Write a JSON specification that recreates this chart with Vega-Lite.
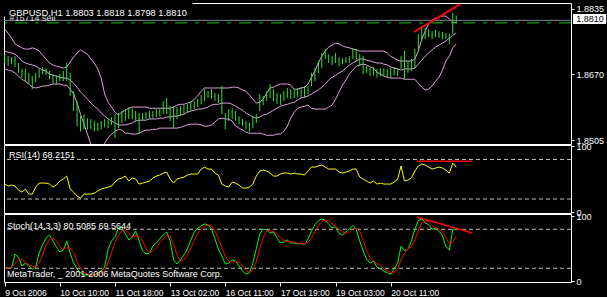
{
"$schema": "https://vega.github.io/schema/vega-lite/v6.json",
"background": "black",
"padding": {"left": 2, "top": 2, "right": 0, "bottom": 0},
"bounds": "flush",
"spacing": 1,
"config": {
  "view": {"stroke": "white", "strokeWidth": 1},
  "axis": {"domain": false, "grid": false, "tickColor": "white", "tickSize": 3, "labelColor": "white", "labelFont": "Liberation Sans", "labelFontSize": 9, "labelPadding": 2, "title": null},
  "text": {"font": "Liberation Sans", "fontSize": 9, "color": "white"}
},
"datasets": {
  "bars": [
{"i":0,"h":1.8721,"l":1.8699,"u":1.8784,"m":1.8729,"b":1.8684,"r":42.7,"k":20.5,"d":20},
{"i":1,"h":1.8716,"l":1.8691,"u":1.8774,"m":1.8726,"b":1.8681,"r":39.7,"k":20.5,"d":20.5},
{"i":2,"h":1.8714,"l":1.8696,"u":1.8762,"m":1.8724,"b":1.8679,"r":41.2,"k":20.5,"d":20.5},
{"i":3,"h":1.8716,"l":1.8689,"u":1.8747,"m":1.8721,"b":1.8674,"r":39.7,"k":42,"d":27.7},
{"i":4,"h":1.8699,"l":1.8674,"u":1.8742,"m":1.8714,"b":1.8666,"r":33.6,"k":37,"d":33},
{"i":5,"h":1.8684,"l":1.8661,"u":1.8737,"m":1.8704,"b":1.8658,"r":30.5,"k":23.5,"d":34},
{"i":6,"h":1.8684,"l":1.8653,"u":1.8734,"m":1.8699,"b":1.8653,"r":35.1,"k":28,"d":29.5},
{"i":7,"h":1.8674,"l":1.8646,"u":1.8734,"m":1.8696,"b":1.8646,"r":27.5,"k":23.5,"d":25},
{"i":8,"h":1.8666,"l":1.8633,"u":1.8737,"m":1.8694,"b":1.8638,"r":27.5,"k":19,"d":23.5},
{"i":9,"h":1.8674,"l":1.8651,"u":1.8734,"m":1.8691,"b":1.8636,"r":38.1,"k":22,"d":21.5},
{"i":10,"h":1.8684,"l":1.8661,"u":1.8729,"m":1.8686,"b":1.8638,"r":44.2,"k":43.5,"d":28},
{"i":11,"h":1.8689,"l":1.8671,"u":1.8719,"m":1.8681,"b":1.8641,"r":44.2,"k":56,"d":40.5},
{"i":12,"h":1.8686,"l":1.8668,"u":1.8709,"m":1.8679,"b":1.8641,"r":44.2,"k":66.6,"d":55.4},
{"i":13,"h":1.8679,"l":1.8658,"u":1.8699,"m":1.8671,"b":1.8643,"r":42.7,"k":71.2,"d":64.6},
{"i":14,"h":1.8671,"l":1.8648,"u":1.8694,"m":1.8668,"b":1.8646,"r":38.1,"k":62,"d":66.6},
{"i":15,"h":1.8668,"l":1.8646,"u":1.8691,"m":1.8666,"b":1.8646,"r":41.2,"k":52.8,"d":62},
{"i":16,"h":1.8671,"l":1.8653,"u":1.8689,"m":1.8663,"b":1.8646,"r":47.3,"k":45,"d":53.3},
{"i":17,"h":1.8679,"l":1.8653,"u":1.8686,"m":1.8661,"b":1.8643,"r":50.3,"k":48,"d":48.6},
{"i":18,"h":1.8699,"l":1.8653,"u":1.8689,"m":1.8661,"b":1.8643,"r":54.9,"k":62,"d":51.7},
{"i":19,"h":1.8674,"l":1.8616,"u":1.8701,"m":1.8656,"b":1.8633,"r":35.1,"k":43.5,"d":51.2},
{"i":20,"h":1.8628,"l":1.8578,"u":1.8714,"m":1.8648,"b":1.8621,"r":30.5,"k":28,"d":44.5},
{"i":21,"h":1.8603,"l":1.854,"u":1.8724,"m":1.8638,"b":1.8598,"r":24.5,"k":19,"d":30.2},
{"i":22,"h":1.8565,"l":1.8527,"u":1.8732,"m":1.8626,"b":1.857,"r":21.4,"k":12.8,"d":19.9},
{"i":23,"h":1.857,"l":1.8532,"u":1.8726,"m":1.8618,"b":1.8545,"r":27.5,"k":9.7,"d":13.8},
{"i":24,"h":1.856,"l":1.8532,"u":1.8721,"m":1.8608,"b":1.852,"r":27.5,"k":9.7,"d":10.7},
{"i":25,"h":1.8558,"l":1.8532,"u":1.8709,"m":1.8598,"b":1.8495,"r":27.5,"k":9.7,"d":9.7},
{"i":26,"h":1.8553,"l":1.8527,"u":1.8699,"m":1.859,"b":1.8477,"r":29,"k":9.7,"d":9.7},
{"i":27,"h":1.8548,"l":1.8527,"u":1.8684,"m":1.8583,"b":1.8464,"r":32.1,"k":12.8,"d":10.7},
{"i":28,"h":1.8553,"l":1.8532,"u":1.8661,"m":1.8573,"b":1.8472,"r":35.1,"k":15.8,"d":12.8},
{"i":29,"h":1.8558,"l":1.8537,"u":1.8621,"m":1.8565,"b":1.8497,"r":36.6,"k":22,"d":16.9},
{"i":30,"h":1.8555,"l":1.8535,"u":1.86,"m":1.8558,"b":1.851,"r":38.1,"k":49.6,"d":29.1},
{"i":31,"h":1.8563,"l":1.8543,"u":1.8588,"m":1.8553,"b":1.852,"r":39.7,"k":62,"d":44.5},
{"i":32,"h":1.857,"l":1.851,"u":1.8575,"m":1.8548,"b":1.8527,"r":45.7,"k":68,"d":59.9},
{"i":33,"h":1.8573,"l":1.8535,"u":1.8568,"m":1.8543,"b":1.8532,"r":50.3,"k":82,"d":70.7},
{"i":34,"h":1.8578,"l":1.8548,"u":1.8575,"m":1.8543,"b":1.853,"r":51.8,"k":83.5,"d":77.8},
{"i":35,"h":1.8583,"l":1.8553,"u":1.858,"m":1.8543,"b":1.8522,"r":54.9,"k":72.8,"d":79.4},
{"i":36,"h":1.8588,"l":1.8558,"u":1.8585,"m":1.8545,"b":1.8522,"r":47.3,"k":63.5,"d":73.3},
{"i":37,"h":1.8585,"l":1.8558,"u":1.8588,"m":1.8548,"b":1.852,"r":51.8,"k":68,"d":68.1},
{"i":38,"h":1.8578,"l":1.8553,"u":1.8588,"m":1.8553,"b":1.852,"r":50.3,"k":77.4,"d":69.6},
{"i":39,"h":1.8573,"l":1.852,"u":1.8588,"m":1.8555,"b":1.8522,"r":42.7,"k":62,"d":69.1},
{"i":40,"h":1.8573,"l":1.8553,"u":1.8588,"m":1.8555,"b":1.8527,"r":44.2,"k":46.6,"d":62},
{"i":41,"h":1.8575,"l":1.8558,"u":1.8588,"m":1.8555,"b":1.853,"r":45.7,"k":42,"d":50.2},
{"i":42,"h":1.8578,"l":1.8558,"u":1.8585,"m":1.8558,"b":1.853,"r":47.3,"k":43.5,"d":44},
{"i":43,"h":1.8578,"l":1.856,"u":1.8585,"m":1.8558,"b":1.8532,"r":51.8,"k":54.3,"d":46.6},
{"i":44,"h":1.8583,"l":1.8563,"u":1.8585,"m":1.8558,"b":1.8532,"r":54.9,"k":58.9,"d":52.2},
{"i":45,"h":1.8585,"l":1.8565,"u":1.8585,"m":1.856,"b":1.8535,"r":56.4,"k":65.1,"d":59.4},
{"i":46,"h":1.8603,"l":1.857,"u":1.8585,"m":1.856,"b":1.8535,"r":59.4,"k":71.2,"d":65.1},
{"i":47,"h":1.8611,"l":1.857,"u":1.8585,"m":1.8563,"b":1.8535,"r":60.9,"k":75.8,"d":70.7},
{"i":48,"h":1.859,"l":1.8553,"u":1.8585,"m":1.8563,"b":1.8535,"r":50.3,"k":62,"d":69.7},
{"i":49,"h":1.859,"l":1.8535,"u":1.8588,"m":1.8565,"b":1.8535,"r":44.2,"k":32.7,"d":56.8},
{"i":50,"h":1.8588,"l":1.8558,"u":1.8593,"m":1.8565,"b":1.8535,"r":50.3,"k":26.6,"d":40.4},
{"i":51,"h":1.859,"l":1.8565,"u":1.8595,"m":1.8568,"b":1.8537,"r":51.8,"k":32.7,"d":30.7},
{"i":52,"h":1.8593,"l":1.857,"u":1.8595,"m":1.857,"b":1.854,"r":53.3,"k":40.4,"d":33.2},
{"i":53,"h":1.8595,"l":1.8573,"u":1.8598,"m":1.8575,"b":1.8543,"r":56.4,"k":49.6,"d":40.9},
{"i":54,"h":1.8603,"l":1.8578,"u":1.86,"m":1.8578,"b":1.8545,"r":57.9,"k":63.5,"d":51.2},
{"i":55,"h":1.8603,"l":1.8583,"u":1.8608,"m":1.858,"b":1.8545,"r":57.9,"k":75.8,"d":63},
{"i":56,"h":1.8608,"l":1.8588,"u":1.8616,"m":1.8583,"b":1.8545,"r":57.9,"k":82,"d":73.8},
{"i":57,"h":1.8618,"l":1.8595,"u":1.8628,"m":1.8583,"b":1.8543,"r":65.5,"k":85.1,"d":81},
{"i":58,"h":1.8633,"l":1.8603,"u":1.8636,"m":1.8585,"b":1.854,"r":68.5,"k":88.2,"d":85.1},
{"i":59,"h":1.8628,"l":1.8611,"u":1.8636,"m":1.8588,"b":1.854,"r":65.5,"k":86.6,"d":86.6},
{"i":60,"h":1.8633,"l":1.8608,"u":1.8636,"m":1.8593,"b":1.8543,"r":65.5,"k":80.5,"d":85.1},
{"i":61,"h":1.8623,"l":1.8603,"u":1.8636,"m":1.8595,"b":1.855,"r":59.4,"k":65.1,"d":77.4},
{"i":62,"h":1.8621,"l":1.8598,"u":1.8636,"m":1.8595,"b":1.8558,"r":56.4,"k":49.6,"d":65.1},
{"i":63,"h":1.8641,"l":1.857,"u":1.8636,"m":1.8598,"b":1.856,"r":42.7,"k":38.9,"d":51.2},
{"i":64,"h":1.8573,"l":1.8532,"u":1.8636,"m":1.8598,"b":1.8558,"r":39.7,"k":26.6,"d":38.4},
{"i":65,"h":1.8583,"l":1.8553,"u":1.8636,"m":1.8598,"b":1.8558,"r":38.1,"k":28,"d":31.2},
{"i":66,"h":1.8585,"l":1.8558,"u":1.8638,"m":1.8595,"b":1.8553,"r":45.7,"k":32.7,"d":29.1},
{"i":67,"h":1.8578,"l":1.8553,"u":1.8638,"m":1.859,"b":1.854,"r":44.2,"k":31.2,"d":30.6},
{"i":68,"h":1.8565,"l":1.8545,"u":1.8636,"m":1.8585,"b":1.8535,"r":41.2,"k":23.5,"d":29.1},
{"i":69,"h":1.8558,"l":1.854,"u":1.8631,"m":1.858,"b":1.853,"r":36.6,"k":15.8,"d":23.5},
{"i":70,"h":1.8553,"l":1.8532,"u":1.8628,"m":1.8573,"b":1.8525,"r":36.6,"k":11.2,"d":16.8},
{"i":71,"h":1.8548,"l":1.8525,"u":1.8618,"m":1.8568,"b":1.8522,"r":38.1,"k":12.8,"d":13.3},
{"i":72,"h":1.8565,"l":1.8535,"u":1.8608,"m":1.8563,"b":1.8522,"r":42.7,"k":28,"d":17.3},
{"i":73,"h":1.857,"l":1.8548,"u":1.8598,"m":1.856,"b":1.8522,"r":54.9,"k":50,"d":30.3},
{"i":74,"h":1.8621,"l":1.8578,"u":1.86,"m":1.8563,"b":1.8522,"r":62.5,"k":72.8,"d":50.3},
{"i":75,"h":1.8616,"l":1.8593,"u":1.8608,"m":1.8568,"b":1.852,"r":63.9,"k":80.5,"d":67.8},
{"i":76,"h":1.8628,"l":1.8603,"u":1.8623,"m":1.857,"b":1.8517,"r":62.5,"k":79,"d":77.4},
{"i":77,"h":1.8646,"l":1.8611,"u":1.8636,"m":1.8575,"b":1.8517,"r":59.4,"k":74.3,"d":77.9},
{"i":78,"h":1.8633,"l":1.8603,"u":1.8638,"m":1.858,"b":1.8517,"r":54.9,"k":75.8,"d":76.4},
{"i":79,"h":1.8623,"l":1.8595,"u":1.8643,"m":1.8585,"b":1.852,"r":54.9,"k":66.6,"d":72.2},
{"i":80,"h":1.8621,"l":1.8593,"u":1.8646,"m":1.859,"b":1.852,"r":57.9,"k":58.9,"d":67.1},
{"i":81,"h":1.8628,"l":1.8603,"u":1.8646,"m":1.8593,"b":1.8527,"r":59.4,"k":60.5,"d":62},
{"i":82,"h":1.8636,"l":1.8611,"u":1.8646,"m":1.8595,"b":1.854,"r":59.4,"k":63.5,"d":61},
{"i":83,"h":1.8633,"l":1.8608,"u":1.8643,"m":1.8598,"b":1.856,"r":57.9,"k":58.9,"d":61},
{"i":84,"h":1.8633,"l":1.8611,"u":1.8633,"m":1.86,"b":1.8575,"r":59.4,"k":58.9,"d":60.4},
{"i":85,"h":1.8636,"l":1.8613,"u":1.8633,"m":1.8606,"b":1.8585,"r":57.9,"k":57.4,"d":58.4},
{"i":86,"h":1.8638,"l":1.8613,"u":1.8636,"m":1.8611,"b":1.8588,"r":57.9,"k":58.9,"d":58.4},
{"i":87,"h":1.8641,"l":1.8611,"u":1.8638,"m":1.8613,"b":1.859,"r":56.4,"k":56,"d":57.4},
{"i":88,"h":1.8641,"l":1.8621,"u":1.8646,"m":1.8616,"b":1.8593,"r":62.5,"k":65,"d":60},
{"i":89,"h":1.8674,"l":1.8641,"u":1.8663,"m":1.8621,"b":1.8585,"r":68.5,"k":77,"d":66},
{"i":90,"h":1.8686,"l":1.8653,"u":1.8679,"m":1.8626,"b":1.8583,"r":68.5,"k":87,"d":76.3},
{"i":91,"h":1.8704,"l":1.8674,"u":1.8699,"m":1.8631,"b":1.8583,"r":70.1,"k":93,"d":85.7},
{"i":92,"h":1.8724,"l":1.8686,"u":1.8716,"m":1.8638,"b":1.8583,"r":71.6,"k":96,"d":92},
{"i":93,"h":1.8734,"l":1.8709,"u":1.8729,"m":1.8646,"b":1.8583,"r":68.5,"k":94,"d":94.3},
{"i":94,"h":1.8721,"l":1.8699,"u":1.8739,"m":1.8656,"b":1.8588,"r":65.5,"k":88,"d":92.7},
{"i":95,"h":1.8716,"l":1.8694,"u":1.8744,"m":1.8663,"b":1.8593,"r":65.5,"k":82,"d":88},
{"i":96,"h":1.8724,"l":1.8699,"u":1.8749,"m":1.8668,"b":1.8608,"r":65.5,"k":84,"d":84.7},
{"i":97,"h":1.8714,"l":1.8691,"u":1.8747,"m":1.8674,"b":1.8626,"r":60.9,"k":74,"d":80},
{"i":98,"h":1.8711,"l":1.8696,"u":1.8742,"m":1.8679,"b":1.8643,"r":59.4,"k":71,"d":76.3},
{"i":99,"h":1.8714,"l":1.8699,"u":1.8739,"m":1.8686,"b":1.8656,"r":60.9,"k":76,"d":73.7},
{"i":100,"h":1.8716,"l":1.8699,"u":1.8737,"m":1.8694,"b":1.8671,"r":62.5,"k":80,"d":75.7},
{"i":101,"h":1.8737,"l":1.8709,"u":1.8734,"m":1.8699,"b":1.8681,"r":65.5,"k":86,"d":80.7},
{"i":102,"h":1.8734,"l":1.8704,"u":1.8732,"m":1.8704,"b":1.8691,"r":65.5,"k":80,"d":82},
{"i":103,"h":1.8721,"l":1.8691,"u":1.8729,"m":1.8709,"b":1.8694,"r":53.3,"k":62,"d":76},
{"i":104,"h":1.8716,"l":1.8671,"u":1.8729,"m":1.8709,"b":1.8696,"r":50.3,"k":47,"d":63},
{"i":105,"h":1.8691,"l":1.8674,"u":1.8729,"m":1.8706,"b":1.8694,"r":47.3,"k":34,"d":47.7},
{"i":106,"h":1.8686,"l":1.8666,"u":1.8729,"m":1.8704,"b":1.8689,"r":44.2,"k":28,"d":36.3},
{"i":107,"h":1.8689,"l":1.8668,"u":1.8729,"m":1.8701,"b":1.8686,"r":47.3,"k":31,"d":31},
{"i":108,"h":1.8684,"l":1.8663,"u":1.8729,"m":1.8699,"b":1.8676,"r":42.7,"k":22,"d":27},
{"i":109,"h":1.8686,"l":1.8666,"u":1.8729,"m":1.8699,"b":1.8671,"r":44.2,"k":19,"d":24},
{"i":110,"h":1.8686,"l":1.8666,"u":1.8729,"m":1.8696,"b":1.8666,"r":42.7,"k":16,"d":19},
{"i":111,"h":1.8684,"l":1.8663,"u":1.8724,"m":1.8694,"b":1.8663,"r":42.7,"k":13,"d":16},
{"i":112,"h":1.8686,"l":1.8661,"u":1.8716,"m":1.8689,"b":1.8661,"r":42.7,"k":11,"d":13.3},
{"i":113,"h":1.8689,"l":1.8668,"u":1.8711,"m":1.8686,"b":1.8661,"r":45.7,"k":19,"d":14.3},
{"i":114,"h":1.8686,"l":1.8666,"u":1.8706,"m":1.8684,"b":1.8661,"r":50.3,"k":28,"d":19.3},
{"i":115,"h":1.8716,"l":1.8684,"u":1.8704,"m":1.8681,"b":1.8661,"r":70.1,"k":54,"d":33.7},
{"i":116,"h":1.8729,"l":1.8658,"u":1.8704,"m":1.8684,"b":1.8658,"r":47.3,"k":47,"d":43},
{"i":117,"h":1.8704,"l":1.8674,"u":1.8704,"m":1.8684,"b":1.8658,"r":48.8,"k":49,"d":50},
{"i":118,"h":1.8709,"l":1.8679,"u":1.8704,"m":1.8684,"b":1.8658,"r":51.8,"k":62,"d":52.7},
{"i":119,"h":1.8734,"l":1.8686,"u":1.8709,"m":1.8686,"b":1.8658,"r":62.5,"k":80,"d":63.7},
{"i":120,"h":1.8772,"l":1.8729,"u":1.8729,"m":1.8696,"b":1.8648,"r":70.1,"k":93,"d":78.3},
{"i":121,"h":1.8792,"l":1.8754,"u":1.8759,"m":1.8706,"b":1.8638,"r":73.1,"k":96,"d":89.7},
{"i":122,"h":1.8787,"l":1.8759,"u":1.8779,"m":1.8716,"b":1.8631,"r":71.6,"k":90,"d":93},
{"i":123,"h":1.8784,"l":1.8764,"u":1.8797,"m":1.8724,"b":1.8633,"r":68.5,"k":87,"d":91},
{"i":124,"h":1.8779,"l":1.8759,"u":1.8807,"m":1.8732,"b":1.8641,"r":65.5,"k":80,"d":85.7},
{"i":125,"h":1.8782,"l":1.8764,"u":1.8812,"m":1.8739,"b":1.8653,"r":67,"k":82,"d":83},
{"i":126,"h":1.8779,"l":1.8762,"u":1.8815,"m":1.8744,"b":1.8663,"r":68.5,"k":77,"d":79.7},
{"i":127,"h":1.8777,"l":1.8759,"u":1.8817,"m":1.8749,"b":1.8681,"r":67,"k":70,"d":76.3},
{"i":128,"h":1.8774,"l":1.8759,"u":1.8817,"m":1.8754,"b":1.8704,"r":64,"k":54,"d":67},
{"i":129,"h":1.8772,"l":1.8747,"u":1.881,"m":1.8762,"b":1.8716,"r":59.4,"k":48,"d":57.3},
{"i":130,"h":1.8825,"l":1.8772,"u":1.8802,"m":1.8769,"b":1.8737,"r":74.6,"k":80,"d":60.7},
{"i":131,"h":1.8818,"l":1.8798,"u":1.88,"m":1.8774,"b":1.8747,"r":68.2151,"k":80.5085,"d":69.5644}
  ],
  "trendMain": [{"x": 118.8, "v": 1.8777}, {"x": 132.1, "v": 1.8847}],
  "trendRsi": [{"x": 119.6, "v": 77.5}, {"x": 135.6, "v": 77.5}],
  "trendSto": [{"x": 119.6, "v": 98.9}, {"x": 135.6, "v": 74.3}]
},
"vconcat": [
  {
    "width": 567, "height": 141,
    "data": {"name": "bars"},
    "layer": [
      {"mark": {"type": "line", "color": "#dda0dd", "strokeWidth": 1, "clip": true, "interpolate": "linear"},
       "encoding": {"x": {"field": "i", "type": "quantitative", "scale": {"domain": [-0.2, 164.3], "nice": false, "zero": false}, "axis": null},
                    "y": {"field": "u", "type": "quantitative", "scale": {"domain": [1.8495, 1.885], "nice": false, "zero": false},
                          "axis": {"orient": "right", "values": [1.8505, 1.8585, 1.867, 1.8755, 1.8835], "format": ".4f", "labelFlush": false, "labelBaseline": "middle"}}}},
      {"mark": {"type": "line", "color": "#dda0dd", "strokeWidth": 1, "clip": true},
       "encoding": {"x": {"field": "i", "type": "quantitative"}, "y": {"field": "m", "type": "quantitative"}}},
      {"mark": {"type": "line", "color": "#dda0dd", "strokeWidth": 1, "clip": true},
       "encoding": {"x": {"field": "i", "type": "quantitative"}, "y": {"field": "b", "type": "quantitative"}}},
      {"mark": {"type": "rule", "color": "#33e033", "strokeWidth": 1},
       "encoding": {"x": {"field": "i", "type": "quantitative"}, "y": {"field": "h", "type": "quantitative"}, "y2": {"field": "l"}}},
      {"data": {"values": [{}]},
       "mark": {"type": "rule", "color": "#778899", "strokeWidth": 1},
       "encoding": {"y": {"datum": 1.88064, "type": "quantitative"}}},
      {"data": {"values": [{}]},
       "mark": {"type": "rule", "color": "#00c800", "strokeWidth": 1, "strokeDash": [12, 8, 4, 8]},
       "encoding": {"y": {"datum": 1.88, "type": "quantitative"}}},
      {"data": {"name": "trendMain"},
       "mark": {"type": "line", "color": "#ff0000", "strokeWidth": 2, "clip": true},
       "encoding": {"x": {"field": "x", "type": "quantitative"}, "y": {"field": "v", "type": "quantitative"}}},
      {"data": {"values": [{}]},
       "mark": {"type": "text", "text": "#15714 sell", "align": "left", "baseline": "alphabetic", "fontSize": 9, "color": "#e0e0e0"},
       "encoding": {"x": {"datum": 1.4, "type": "quantitative"}, "y": {"datum": 1.88047, "type": "quantitative"}}},
      {"data": {"values": [{}]},
       "mark": {"type": "rect", "fill": "black"},
       "encoding": {"x": {"datum": -0.2, "type": "quantitative"}, "x2": {"datum": 54.5}, "y": {"datum": 1.885, "type": "quantitative"}, "y2": {"datum": 1.8816}}},
      {"data": {"values": [{}]},
       "mark": {"type": "text", "text": "GBPUSD,H1  1.8803 1.8818 1.8798 1.8810", "align": "left", "baseline": "alphabetic", "fontSize": 9.3},
       "encoding": {"x": {"datum": 1.25, "type": "quantitative"}, "y": {"datum": 1.88173, "type": "quantitative"}}},
      {"data": {"values": [{}]},
       "mark": {"type": "rect", "fill": "white"},
       "encoding": {"x": {"datum": 164.9, "type": "quantitative"}, "x2": {"datum": 174.5}, "y": {"datum": 1.8822, "type": "quantitative"}, "y2": {"datum": 1.8797}}},
      {"data": {"values": [{}]},
       "mark": {"type": "text", "text": "1.8810", "align": "left", "baseline": "middle", "fontSize": 9, "color": "black"},
       "encoding": {"x": {"datum": 165.8, "type": "quantitative"}, "y": {"datum": 1.881, "type": "quantitative"}}}
    ]
  },
  {
    "width": 567, "height": 68,
    "data": {"name": "bars"},
    "layer": [
      {"data": {"values": [{}]},
       "mark": {"type": "rule", "color": "#c0c0c0", "strokeWidth": 1, "strokeDash": [4, 3]},
       "encoding": {"y": {"datum": 80, "type": "quantitative", "scale": {"domain": [-1.2, 102], "nice": false, "zero": false},
                          "axis": {"orient": "right", "values": [0, 20, 80, 100], "labelFlush": true, "labelBaseline": "middle"}}}},
      {"data": {"values": [{}]},
       "mark": {"type": "rule", "color": "#c0c0c0", "strokeWidth": 1, "strokeDash": [4, 3]},
       "encoding": {"y": {"datum": 20, "type": "quantitative"}}},
      {"mark": {"type": "line", "color": "#ffff00", "strokeWidth": 1},
       "encoding": {"x": {"field": "i", "type": "quantitative", "scale": {"domain": [-0.2, 164.3], "nice": false, "zero": false}, "axis": null},
                    "y": {"field": "r", "type": "quantitative"}}},
      {"data": {"name": "trendRsi"},
       "mark": {"type": "line", "color": "#ff0000", "strokeWidth": 1.5},
       "encoding": {"x": {"field": "x", "type": "quantitative"}, "y": {"field": "v", "type": "quantitative"}}},
      {"data": {"values": [{}]},
       "mark": {"type": "text", "text": "RSI(14) 68.2151", "align": "left", "baseline": "alphabetic", "fontSize": 9},
       "encoding": {"x": {"datum": 1.25, "type": "quantitative"}, "y": {"datum": 82.2, "type": "quantitative"}}}
    ]
  },
  {
    "width": 567, "height": 68,
    "data": {"name": "bars"},
    "layer": [
      {"data": {"values": [{}]},
       "mark": {"type": "rule", "color": "#c0c0c0", "strokeWidth": 1, "strokeDash": [4, 3]},
       "encoding": {"y": {"datum": 80, "type": "quantitative", "scale": {"domain": [-1.1, 103.5], "nice": false, "zero": false},
                          "axis": {"orient": "right", "values": [0, 20, 80, 100], "labelFlush": true, "labelBaseline": "middle"}}}},
      {"data": {"values": [{}]},
       "mark": {"type": "rule", "color": "#c0c0c0", "strokeWidth": 1, "strokeDash": [4, 3]},
       "encoding": {"y": {"datum": 20, "type": "quantitative"}}},
      {"mark": {"type": "line", "color": "#00ff00", "strokeWidth": 1},
       "encoding": {"x": {"field": "i", "type": "quantitative", "scale": {"domain": [-0.2, 164.3], "nice": false, "zero": false},
                          "axis": {"values": [0, 16, 32, 48, 64, 80, 96, 112], "labelExpr": "['9 Oct 2006','10 Oct 10:00','11 Oct 18:00','13 Oct 02:00','16 Oct 11:00','17 Oct 19:00','19 Oct 03:00','20 Oct 11:00'][datum.value/16]", "labelAlign": "left", "labelBaseline": "top", "labelFlush": false, "labelOverlap": false, "tickSize": 4, "labelFontSize": 8.5, "labelPadding": 2}},
                    "y": {"field": "k", "type": "quantitative"}}},
      {"mark": {"type": "line", "color": "#ff0000", "strokeWidth": 1},
       "encoding": {"x": {"field": "i", "type": "quantitative"}, "y": {"field": "d", "type": "quantitative"}}},
      {"data": {"name": "trendSto"},
       "mark": {"type": "line", "color": "#ff0000", "strokeWidth": 1.5},
       "encoding": {"x": {"field": "x", "type": "quantitative"}, "y": {"field": "v", "type": "quantitative"}}},
      {"data": {"values": [{}]},
       "mark": {"type": "text", "text": "Stoch(14,3,3) 80.5085 69.5644", "align": "left", "baseline": "alphabetic", "fontSize": 9},
       "encoding": {"x": {"datum": 0.67, "type": "quantitative"}, "y": {"datum": 79.7, "type": "quantitative"}}},
      {"data": {"values": [{}]},
       "mark": {"type": "text", "text": "MetaTrader, _ 2001-2006 MetaQuotes Software Corp.", "align": "left", "baseline": "alphabetic", "fontSize": 9},
       "encoding": {"x": {"datum": 0.67, "type": "quantitative"}, "y": {"datum": 6.6, "type": "quantitative"}}}
    ]
  }
]
}
